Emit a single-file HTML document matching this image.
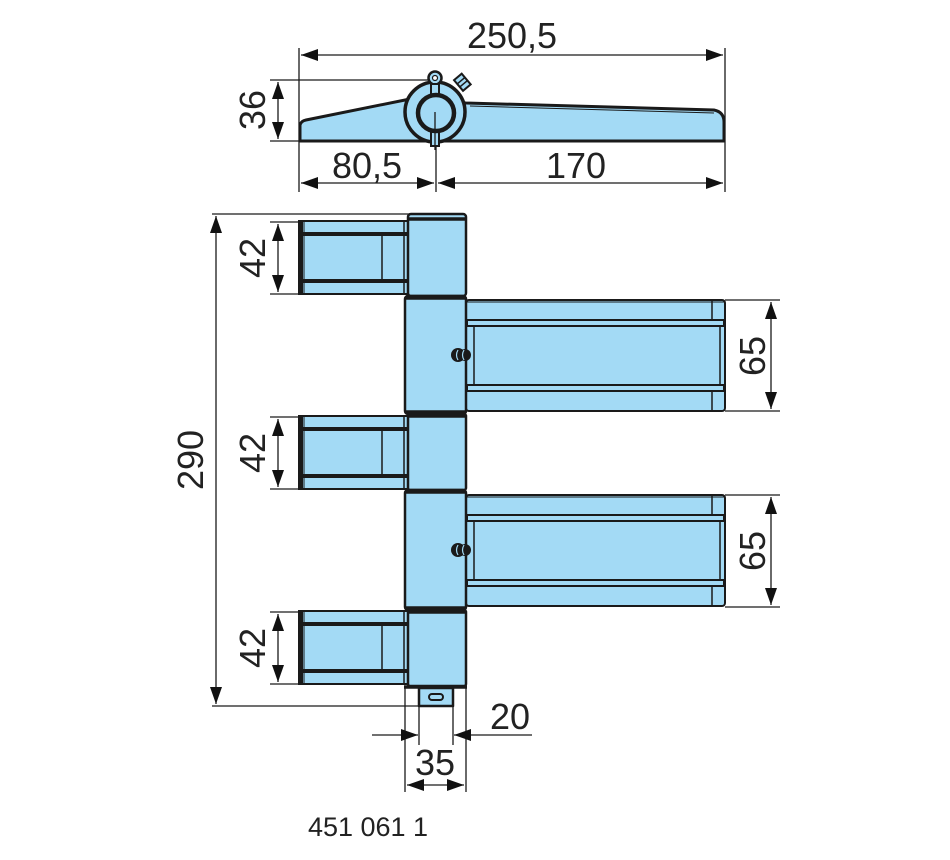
<!DOCTYPE html>
<html><head><meta charset="utf-8"><style>
html,body{margin:0;padding:0;background:#fff;}
svg{display:block;}
text{font-family:"Liberation Sans",sans-serif;fill:#222;font-size:36px;}
</style></head><body>
<svg width="950" height="860" viewBox="0 0 950 860" xmlns="http://www.w3.org/2000/svg">
<defs>
<marker id="ae" markerWidth="18" markerHeight="12" refX="17" refY="6" orient="auto" markerUnits="userSpaceOnUse"><path d="M0,0 L17,6 L0,12 z" fill="#111"/></marker>
<marker id="as" markerWidth="18" markerHeight="12" refX="0" refY="6" orient="auto" markerUnits="userSpaceOnUse"><path d="M17,0 L0,6 L17,12 z" fill="#111"/></marker>
<g id="lleaf">
 <rect x="299" y="0" width="112" height="73" fill="#a3daf5" stroke="#1a1a1a" stroke-width="2"/>
 <line x1="301" y1="0" x2="301" y2="73" stroke="#1a1a1a" stroke-width="4"/>
 <line x1="304" y1="0" x2="304" y2="73" stroke="#1a1a1a" stroke-width="1"/>
 <line x1="301" y1="13" x2="410" y2="13" stroke="#1a1a1a" stroke-width="4"/>
 <line x1="301" y1="60" x2="410" y2="60" stroke="#1a1a1a" stroke-width="4"/>
 <line x1="382" y1="13" x2="382" y2="60" stroke="#1a1a1a" stroke-width="1.5"/>
 <line x1="404" y1="0" x2="404" y2="73" stroke="#1a1a1a" stroke-width="1.5"/>
</g>
<g id="rleaf">
 <rect x="466" y="0" width="259" height="111" rx="3" fill="#a3daf5" stroke="#1a1a1a" stroke-width="2"/>
 <line x1="466" y1="2" x2="724" y2="2" stroke="#1a1a1a" stroke-width="1"/>
 <rect x="467" y="20" width="257" height="6" fill="#a3daf5" stroke="#1a1a1a" stroke-width="2"/>
 <rect x="467" y="85" width="257" height="6" fill="#a3daf5" stroke="#1a1a1a" stroke-width="2"/>
 <line x1="474" y1="26" x2="474" y2="85" stroke="#1a1a1a" stroke-width="1.5"/>
 <line x1="720" y1="26" x2="720" y2="85" stroke="#1a1a1a" stroke-width="1.5"/>
 <line x1="712" y1="0" x2="712" y2="20" stroke="#1a1a1a" stroke-width="1.5"/>
 <line x1="712" y1="91" x2="712" y2="111" stroke="#1a1a1a" stroke-width="1.5"/>
</g>
</defs>

<!-- TOP VIEW -->
<g stroke="#1a1a1a" stroke-width="1.3" fill="none">
 <line x1="299" y1="48" x2="299" y2="192"/>
 <line x1="725" y1="48" x2="725" y2="192"/>
 <line x1="436" y1="141" x2="436" y2="192"/>
 <line x1="270" y1="80" x2="432" y2="80"/>
 <line x1="270" y1="141" x2="300" y2="141"/>
 <line x1="301" y1="55" x2="723" y2="55" marker-start="url(#as)" marker-end="url(#ae)"/>
 <line x1="278" y1="82" x2="278" y2="139" marker-start="url(#as)" marker-end="url(#ae)"/>
 <line x1="301" y1="183" x2="434" y2="183" marker-start="url(#as)" marker-end="url(#ae)"/>
 <line x1="438" y1="183" x2="723" y2="183" marker-start="url(#as)" marker-end="url(#ae)"/>
</g>
<path d="M300,141 L300,125 Q301,121 306,120 L410,99 L466,103 L714,110 Q724,112 724,122 L724,141 Z" fill="#a3daf5" stroke="#1a1a1a" stroke-width="3" stroke-linejoin="round"/>
<line x1="470" y1="106" x2="714" y2="113" stroke="#1a1a1a" stroke-width="1"/>
<g transform="translate(463,83) rotate(-40)"><rect x="-5" y="-8" width="10" height="14" fill="#a3daf5" stroke="#1a1a1a" stroke-width="2"/><line x1="-5" y1="-3" x2="5" y2="-3" stroke="#1a1a1a" stroke-width="1.5"/><line x1="-5" y1="1" x2="5" y2="1" stroke="#1a1a1a" stroke-width="1.5"/></g>
<circle cx="435" cy="112" r="30" fill="#a3daf5" stroke="#1a1a1a" stroke-width="3.5"/>
<circle cx="435" cy="78" r="6.5" fill="#a3daf5" stroke="#1a1a1a" stroke-width="2.5"/>
<circle cx="435" cy="78" r="2.5" fill="#fff" stroke="#1a1a1a" stroke-width="1.2"/>
<rect x="431" y="84" width="8" height="62" fill="#a3daf5" stroke="#1a1a1a" stroke-width="2"/>
<circle cx="436" cy="113" r="18" fill="#a3daf5" stroke="#1a1a1a" stroke-width="4.5"/>
<line x1="435" y1="112" x2="435" y2="150" stroke="#1a1a1a" stroke-width="1.3"/>
<text x="512" y="48" text-anchor="middle">250,5</text>
<text x="367" y="178" text-anchor="middle">80,5</text>
<text x="576" y="178" text-anchor="middle">170</text>
<text transform="translate(265,110) rotate(-90)" text-anchor="middle">36</text>

<!-- FRONT VIEW dims -->
<g stroke="#1a1a1a" stroke-width="1.3" fill="none">
 <line x1="212" y1="214" x2="410" y2="214"/>
 <line x1="212" y1="706" x2="420" y2="706"/>
 <line x1="216" y1="216" x2="216" y2="704" marker-start="url(#as)" marker-end="url(#ae)"/>
 <line x1="270" y1="222" x2="300" y2="222"/><line x1="270" y1="294" x2="300" y2="294"/>
 <line x1="278" y1="224" x2="278" y2="292" marker-start="url(#as)" marker-end="url(#ae)"/>
 <line x1="270" y1="417" x2="300" y2="417"/><line x1="270" y1="489" x2="300" y2="489"/>
 <line x1="278" y1="419" x2="278" y2="487" marker-start="url(#as)" marker-end="url(#ae)"/>
 <line x1="270" y1="612" x2="300" y2="612"/><line x1="270" y1="684" x2="300" y2="684"/>
 <line x1="278" y1="614" x2="278" y2="682" marker-start="url(#as)" marker-end="url(#ae)"/>
 <line x1="725" y1="300" x2="780" y2="300"/><line x1="725" y1="411" x2="780" y2="411"/>
 <line x1="771" y1="302" x2="771" y2="409" marker-start="url(#as)" marker-end="url(#ae)"/>
 <line x1="725" y1="495" x2="780" y2="495"/><line x1="725" y1="607" x2="780" y2="607"/>
 <line x1="771" y1="497" x2="771" y2="605" marker-start="url(#as)" marker-end="url(#ae)"/>
 <line x1="405" y1="688" x2="405" y2="792"/>
 <line x1="466" y1="688" x2="466" y2="792"/>
 <line x1="407" y1="785" x2="464" y2="785" marker-start="url(#as)" marker-end="url(#ae)"/>
 <line x1="419" y1="706" x2="419" y2="745"/>
 <line x1="453" y1="706" x2="453" y2="745"/>
 <line x1="372" y1="735" x2="418" y2="735" marker-end="url(#ae)"/>
 <line x1="532" y1="735" x2="454" y2="735" marker-end="url(#ae)"/>
</g>
<text transform="translate(203,460) rotate(-90)" text-anchor="middle">290</text>
<text transform="translate(265,258) rotate(-90)" text-anchor="middle">42</text>
<text transform="translate(265,453) rotate(-90)" text-anchor="middle">42</text>
<text transform="translate(265,648) rotate(-90)" text-anchor="middle">42</text>
<text transform="translate(765,356) rotate(-90)" text-anchor="middle">65</text>
<text transform="translate(765,551) rotate(-90)" text-anchor="middle">65</text>
<text x="435" y="775" text-anchor="middle">35</text>
<text x="510" y="729" text-anchor="middle">20</text>
<text x="368" y="836" text-anchor="middle" style="font-size:27px">451 061 1</text>

<!-- leaves -->
<use href="#lleaf" transform="translate(0,221)"/>
<use href="#lleaf" transform="translate(0,416)"/>
<use href="#lleaf" transform="translate(0,611)"/>
<use href="#rleaf" transform="translate(0,300)"/>
<use href="#rleaf" transform="translate(0,495)"/>

<!-- barrel -->
<g fill="#a3daf5" stroke="#1a1a1a" stroke-width="2.5" stroke-linejoin="round">
 <rect x="408" y="214" width="58" height="82" rx="3"/>
 <rect x="405" y="296" width="61" height="118" rx="3"/>
 <rect x="408" y="414" width="58" height="76" rx="2"/>
 <rect x="405" y="490" width="61" height="120" rx="3"/>
 <rect x="408" y="610" width="58" height="76" rx="2"/>
 <rect x="419" y="688" width="34" height="18"/>
</g>
<g stroke="#1a1a1a" stroke-width="3.5">
 <line x1="408" y1="219" x2="466" y2="219"/>
 <line x1="406" y1="298" x2="466" y2="298"/>
 <line x1="406" y1="412" x2="466" y2="412"/>
 <line x1="408" y1="416" x2="466" y2="416"/>
 <line x1="406" y1="492" x2="466" y2="492"/>
 <line x1="406" y1="608" x2="466" y2="608"/>
 <line x1="408" y1="612" x2="466" y2="612"/>
 <line x1="404" y1="687" x2="467" y2="687"/>
</g>
<rect x="429" y="694" width="14" height="6" rx="3" fill="#a3daf5" stroke="#1a1a1a" stroke-width="2"/>
<!-- screws -->
<g fill="#1a1a1a">
 <circle cx="458" cy="355" r="7"/><circle cx="465" cy="355" r="6"/>
 <circle cx="458" cy="550" r="7"/><circle cx="465" cy="550" r="6"/>
</g>
<g stroke="#a3daf5" stroke-width="1.2" fill="none">
 <path d="M458,350 Q455,355 458,360"/><path d="M464,350 Q461,355 464,360"/>
 <path d="M458,545 Q455,550 458,555"/><path d="M464,545 Q461,550 464,555"/>
</g>
</svg>
</body></html>
